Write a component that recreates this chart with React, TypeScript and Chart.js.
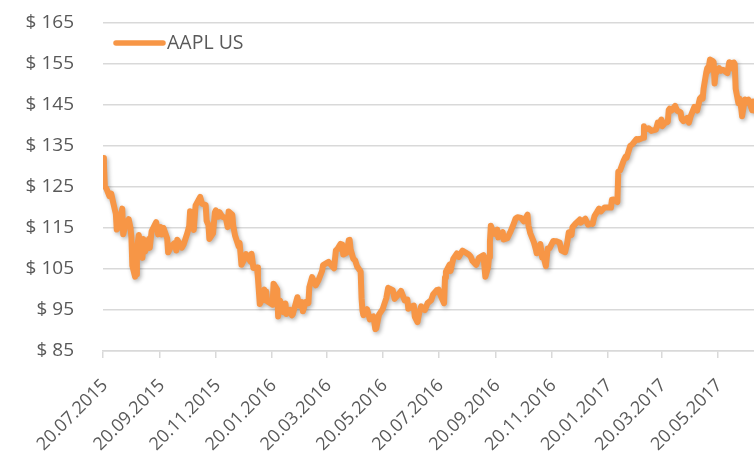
import React, { useEffect, useRef } from 'react';
import { Chart, registerables } from 'chart.js';

Chart.register(...registerables);

const seriesName = 'AAPL US';

// Calendar days since 20.07.2015 (trading days, sampled)
const dayOffsets = [
  0, 1, 2, 4, 7, 9, 11,
  14, 15, 17, 21, 22, 24, 28, 30, 31, 32, 35, 36, 37, 39,
  43, 44, 46, 50, 51, 53, 58, 60, 63, 64, 66, 70, 71,
  74, 78, 80, 81, 86, 88, 92, 94, 95, 98, 99, 101,
  106, 108, 112, 113, 115, 116, 120, 122, 123, 126, 127, 130,
  134, 136, 137, 141, 142, 144, 148, 149, 151, 154, 156, 161, 162, 164,
  168, 169, 171, 172, 176, 177, 178, 179, 185, 186, 190, 191, 193,
  197, 199, 200, 204, 206, 207, 212, 214, 217, 218, 221, 224,
  225, 228, 232, 235, 239, 240, 246, 252, 254,
  256, 259, 260, 261, 262, 266, 268, 269, 270, 273, 275, 277, 281, 282, 283, 284,
  288, 291, 295, 297, 298, 301, 303, 305, 309, 311, 316,
  318, 323, 325, 329, 332, 333, 337, 339, 340, 343, 345,
  347, 351, 354, 358, 360, 364, 366, 368, 372, 373, 374,
  378, 379, 382, 386, 388, 392, 395, 399, 401, 403, 407,
  410, 415, 416, 417, 420, 421, 422, 423, 424, 427, 430, 431, 436, 437,
  441, 444, 448, 450, 452, 456, 459, 463, 464, 466,
  470, 472, 473, 477, 479, 480, 483, 485, 487, 491, 494, 498,
  500, 504, 506, 508, 511, 512, 515, 520, 521, 526, 529,
  533, 534, 536, 539, 541, 543, 547, 550, 554, 555, 557, 561,
  562, 564, 568, 570, 571, 575, 577, 582, 584, 589,
  590, 591, 595, 598, 603, 605, 606, 609, 610, 613, 616, 617, 618, 620,
  624, 626, 630, 631, 633, 637, 639, 641, 645, 648,
  651, 653, 654, 655, 658, 659, 660, 662, 665, 666, 667, 668, 672, 674, 676, 681,
  683, 686, 688, 689, 690, 693, 694, 696, 697, 700, 702, 704, 708, 709, 710, 711,
];

const closePrices = [
  132.07, 130.75, 125.22, 124.5, 122.77, 123.38, 121.3,
  118.44, 114.64, 115.13, 119.72, 113.49, 115.24, 117.16, 115.01, 112.65, 105.76, 103.12, 103.74, 109.69, 113.29,
  107.72, 112.34, 109.27, 112.31, 110.15, 114.21, 116.41, 113.45, 115.21, 113.4, 115.0, 112.44, 109.06,
  110.38, 111.31, 109.5, 112.12, 110.21, 111.04, 113.77, 115.5, 119.08, 115.28, 114.55, 120.53,
  122.57, 120.92, 120.57, 116.77, 115.72, 112.34, 113.69, 118.78, 119.3, 117.75, 118.88, 117.81,
  117.34, 115.2, 119.03, 118.23, 115.62, 113.18, 110.49, 111.34, 106.03, 107.33, 108.61, 106.82, 108.74, 105.26,
  105.35, 102.71, 96.45, 96.96, 99.96, 97.39, 99.52, 97.13, 96.3, 101.42, 99.99, 93.42, 97.34,
  94.48, 96.6, 94.02, 94.99, 93.7, 93.99, 98.12, 96.04, 96.88, 94.69, 96.91, 96.69,
  100.53, 103.01, 101.03, 102.26, 104.58, 105.97, 106.72, 105.19, 109.56,
  109.99, 111.12, 109.81, 110.96, 108.54, 109.02, 112.04, 112.1, 109.85, 107.48, 107.13, 105.68, 104.35, 97.82, 94.83, 93.74,
  95.18, 92.72, 93.42, 90.34, 90.52, 93.88, 94.56, 95.22, 97.9, 100.41, 99.86,
  97.72, 99.03, 99.65, 97.34, 97.55, 95.33, 95.91, 96.1, 93.4, 92.04, 94.4,
  95.89, 94.99, 96.68, 97.42, 98.79, 99.83, 99.96, 98.66, 96.67, 102.95, 104.34,
  106.05, 104.48, 107.48, 108.81, 107.93, 109.48, 109.08, 108.51, 108.03, 106.94, 106.0,
  107.73, 108.36, 105.52, 103.13, 105.44, 107.95, 111.77, 115.57, 114.92, 113.58, 114.62, 112.71, 113.95, 112.18,
  112.52, 113.89, 116.05, 117.34, 117.63, 117.47, 116.6, 118.25, 115.59, 113.72,
  111.49, 109.83, 108.84, 111.06, 107.79, 108.43, 105.71, 109.99, 110.06, 111.8, 111.79, 111.46,
  109.49, 109.11, 111.03, 113.95, 113.3, 115.19, 115.97, 117.06, 116.29, 117.26, 115.82,
  116.15, 116.02, 117.91, 118.99, 119.75, 119.04, 120.0, 120.0, 119.97, 121.88, 121.95, 121.35,
  128.75, 129.08, 131.53, 132.42, 132.12, 135.02, 135.35, 136.7, 136.53, 136.99,
  139.79, 138.96, 139.34, 138.68, 138.99, 140.69, 139.99, 141.46, 139.84, 140.64, 140.88, 143.8, 144.12, 143.66,
  144.77, 143.66, 143.17, 141.63, 141.05, 141.83, 140.68, 142.27, 144.53, 143.65,
  146.58, 147.06, 146.53, 148.96, 153.01, 153.99, 153.26, 156.1, 155.7, 155.47, 150.25, 152.54, 153.99, 153.34, 153.61, 152.76,
  155.45, 153.93, 155.37, 154.99, 148.98, 145.42, 146.59, 144.29, 142.27, 146.34, 145.87, 146.28, 143.73, 145.83, 143.68, 144.02,
];

const xTickDays = [0, 62, 123, 184, 244, 305, 366, 428, 489, 550, 609, 670];
const xTickLabels = [
  '20.07.2015', '20.09.2015', '20.11.2015', '20.01.2016', '20.03.2016', '20.05.2016',
  '20.07.2016', '20.09.2016', '20.11.2016', '20.01.2017', '20.03.2017', '20.05.2017',
];
const xMin = 0;
const xMax = 710;
const yMin = 85;
const yMax = 165;
const yStep = 10;

const FONT = "'Open Sans', sans-serif";
const TEXT = '#595959';
const GRID = '#d9d9d9';
const ORANGE = '#F79646';

const shadowPlugin = {
  id: 'lineShadow',
  beforeDatasetDraw(chart: any) {
    const ctx = chart.ctx;
    ctx.save();
    ctx.shadowColor = 'rgba(0,0,0,0.3)';
    ctx.shadowBlur = 4;
    ctx.shadowOffsetX = 1.5;
    ctx.shadowOffsetY = 2;
  },
  afterDatasetDraw(chart: any) {
    chart.ctx.restore();
  },
};

const legendPlugin = {
  id: 'customLegend',
  afterDraw(chart: any) {
    const ctx = chart.ctx;
    const area = chart.chartArea;
    const y = area.top + 20;
    const x0 = area.left + 13;
    ctx.save();
    ctx.strokeStyle = ORANGE;
    ctx.lineWidth = 5.5;
    ctx.lineCap = 'round';
    ctx.beginPath();
    ctx.moveTo(x0, y);
    ctx.lineTo(x0 + 47, y);
    ctx.stroke();
    ctx.fillStyle = TEXT;
    ctx.font = `19.5px ${FONT}`;
    ctx.textBaseline = 'middle';
    ctx.textAlign = 'left';
    ctx.fillText(seriesName, x0 + 51, y);
    ctx.restore();
  },
};

export default function App() {
  const canvasRef = useRef<HTMLCanvasElement | null>(null);

  useEffect(() => {
    if (!canvasRef.current) return;
    const n = Math.min(dayOffsets.length, closePrices.length);
    const points = [];
    for (let i = 0; i < n; i++) points.push({ x: dayOffsets[i], y: closePrices[i] });

    const chart = new Chart(canvasRef.current, {
      type: 'line',
      data: {
        datasets: [
          {
            label: seriesName,
            data: points,
            borderColor: ORANGE,
            backgroundColor: ORANGE,
            borderWidth: 6,
            pointRadius: 0,
            tension: 0,
            borderJoinStyle: 'round',
            borderCapStyle: 'round',
          },
        ],
      },
      options: {
        responsive: false,
        animation: false,
        layout: { padding: { top: 23, right: 0, bottom: 0, left: 0 } },
        plugins: {
          legend: { display: false },
          tooltip: { enabled: false },
        },
        scales: {
          x: {
            type: 'linear',
            min: xMin,
            max: xMax,
            afterBuildTicks: (scale: any) => {
              scale.ticks = xTickDays.map((v) => ({ value: v }));
            },
            afterFit: (scale: any) => {
              scale.height = 104;
              scale.paddingRight = 0;
            },
            ticks: {
              autoSkip: false,
              maxRotation: 45,
              minRotation: 45,
              padding: 17,
              labelOffset: 2,
              color: TEXT,
              font: { family: FONT, size: 18 },
              callback: (value: any) => {
                const i = xTickDays.indexOf(Number(value));
                return i >= 0 ? xTickLabels[i] : '';
              },
            },
            grid: {
              drawOnChartArea: false,
              drawTicks: true,
              tickLength: 7,
              color: GRID,
              lineWidth: 1.5,
            },
            border: { display: true, color: GRID, width: 1.5 },
          },
          y: {
            min: yMin,
            max: yMax,
            afterFit: (scale: any) => {
              scale.width = 103;
              scale.paddingTop = 12;
              scale.paddingBottom = 12;
            },
            ticks: {
              stepSize: yStep,
              padding: 29,
              color: TEXT,
              font: { family: FONT, size: 19 },
              callback: (value: any) => '$ ' + value,
            },
            grid: {
              drawTicks: false,
              color: GRID,
              lineWidth: 1.5,
            },
            border: { display: false },
          },
        },
      },
      plugins: [shadowPlugin, legendPlugin],
    });
    return () => chart.destroy();
  }, []);

  return (
    <div style={{ position: 'absolute', left: 0, top: 0, width: 754, height: 455, background: '#fff' }}>
      <canvas ref={canvasRef} width={754} height={455} />
    </div>
  );
}
